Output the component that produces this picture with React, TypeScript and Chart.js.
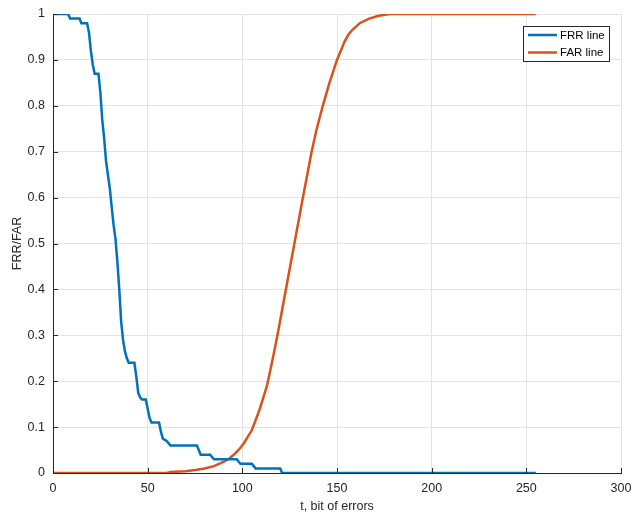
import React, { useEffect, useRef } from "react";
import { Chart, registerables } from "chart.js";

Chart.register(...registerables);

const xTicks = [0, 50, 100, 150, 200, 250, 300];
const yTicks = [0, 0.1, 0.2, 0.3, 0.4, 0.5, 0.6, 0.7, 0.8, 0.9, 1];

const frrT = [0, 8, 9, 14, 15, 18, 19, 20, 21, 22, 24, 25, 26, 27, 28, 29, 30, 31, 32, 33, 34, 35, 36, 37, 38, 39, 40, 43, 44, 45, 46, 47, 49, 50, 51, 52, 56, 57, 58, 60, 61, 62, 76, 77, 78, 83, 84, 85, 97, 98, 99, 105, 106, 107, 120, 121, 255];
const frrV = [1, 1, 0.99, 0.99, 0.98, 0.98, 0.96, 0.92, 0.89, 0.87, 0.87, 0.83, 0.77, 0.73, 0.68, 0.65, 0.62, 0.58, 0.54, 0.51, 0.46, 0.4, 0.33, 0.29, 0.265, 0.25, 0.24, 0.24, 0.21, 0.175, 0.165, 0.16, 0.16, 0.14, 0.12, 0.11, 0.11, 0.09, 0.075, 0.07, 0.065, 0.06, 0.06, 0.05, 0.04, 0.04, 0.035, 0.03, 0.03, 0.025, 0.02, 0.02, 0.015, 0.01, 0.01, 0, 0];

const farT = [0, 60, 62, 70, 76, 80, 85, 90, 93, 95, 97, 99, 101, 103, 105, 107, 109, 111, 113, 115, 117, 119, 121, 123, 127.5, 132, 136.6, 139, 142.5, 146, 150, 152, 154, 156, 158, 162, 167, 172, 178, 255];
const farV = [0, 0, 0.002, 0.004, 0.007, 0.01, 0.015, 0.024, 0.031, 0.038, 0.046, 0.055, 0.066, 0.08, 0.093, 0.115, 0.137, 0.163, 0.19, 0.228, 0.268, 0.31, 0.355, 0.4, 0.5, 0.6, 0.7, 0.745, 0.8, 0.85, 0.9, 0.92, 0.94, 0.955, 0.965, 0.98, 0.99, 0.996, 1, 1];

const seriesNames = ["FRR line", "FAR line"];
const xTitle = "t, bit of errors";
const yTitle = "FRR/FAR";

const BLUE = "#0072BD";
const ORANGE = "#D95319";
const TEXT = "#262626";
const FONT = "Liberation Sans, Arial, sans-serif";

const overlay = {
  id: "overlay",
  afterDraw(chart: any) {
    const { ctx, chartArea } = chart;
    const xs = chart.scales.x;
    const ys = chart.scales.y;
    ctx.save();
    ctx.strokeStyle = TEXT;
    ctx.lineWidth = 1;
    ctx.beginPath();
    xTicks.forEach((t) => {
      const px = Math.round(xs.getPixelForValue(t)) + 0.5;
      ctx.moveTo(px, chartArea.bottom);
      ctx.lineTo(px, chartArea.bottom - 5);
    });
    yTicks.forEach((t) => {
      const py = Math.round(ys.getPixelForValue(t)) + 0.5;
      ctx.moveTo(chartArea.left, py);
      ctx.lineTo(chartArea.left + 5, py);
    });
    ctx.stroke();
    ctx.fillStyle = TEXT;
    ctx.font = "12.5px " + FONT;
    ctx.textAlign = "center";
    ctx.textBaseline = "middle";
    ctx.fillText(xTitle, (chartArea.left + chartArea.right) / 2, 507);
    ctx.save();
    ctx.translate(18, (chartArea.top + chartArea.bottom) / 2);
    ctx.rotate(-Math.PI / 2);
    ctx.fillText(yTitle, 0, 0);
    ctx.restore();
    const bx = 523.5, by = 26.5, bw = 86, bh = 35;
    ctx.fillStyle = "#ffffff";
    ctx.fillRect(bx, by, bw, bh);
    ctx.strokeStyle = "#262626";
    ctx.lineWidth = 1;
    ctx.strokeRect(bx, by, bw, bh);
    const colors = [BLUE, ORANGE];
    const rows = [35, 52.5];
    ctx.font = "11.5px " + FONT;
    ctx.textAlign = "left";
    seriesNames.forEach((n, i) => {
      ctx.strokeStyle = colors[i];
      ctx.lineWidth = 2.5;
      ctx.beginPath();
      ctx.moveTo(528, rows[i]);
      ctx.lineTo(557, rows[i]);
      ctx.stroke();
      ctx.fillStyle = "#000000";
      ctx.fillText(n, 560, rows[i] + 0.5);
    });
    ctx.restore();
  },
};

export default function App() {
  const ref = useRef<HTMLCanvasElement>(null);
  useEffect(() => {
    if (!ref.current) return;
    const chart = new Chart(ref.current, {
      type: "line",
      data: {
        datasets: [
          {
            label: seriesNames[0],
            data: frrT.map((t, i) => ({ x: t, y: frrV[i] })),
            borderColor: BLUE,
            borderWidth: 2.5,
            pointRadius: 0,
            tension: 0,
            fill: false,
          },
          {
            label: seriesNames[1],
            data: farT.map((t, i) => ({ x: t, y: farV[i] })),
            borderColor: ORANGE,
            borderWidth: 2.5,
            pointRadius: 0,
            tension: 0,
            fill: false,
          },
        ],
      },
      plugins: [overlay],
      options: {
        responsive: false,
        animation: false,
        devicePixelRatio: 1,
        layout: { padding: { left: 8, right: 12, top: 14, bottom: 0 } },
        plugins: { legend: { display: false }, tooltip: { enabled: false } },
        scales: {
          x: {
            type: "linear",
            min: 0,
            max: 300,
            afterFit: (s: any) => { s.height = 42; s.paddingLeft = 0; s.paddingRight = 0; },
            afterBuildTicks: (s: any) => { s.ticks = xTicks.map((v) => ({ value: v })); },
            grid: { color: "#e3e3e3", drawTicks: false },
            border: { color: TEXT, width: 1 },
            ticks: { color: TEXT, font: { size: 12.5, family: FONT }, padding: 8, maxRotation: 0 },
          },
          y: {
            type: "linear",
            min: 0,
            max: 1,
            afterFit: (s: any) => { s.width = 45; s.paddingTop = 0; s.paddingBottom = 0; },
            afterBuildTicks: (s: any) => { s.ticks = yTicks.map((v) => ({ value: v })); },
            grid: { color: "#e3e3e3", drawTicks: false },
            border: { color: TEXT, width: 1 },
            ticks: {
              color: TEXT,
              font: { size: 12.5, family: FONT },
              padding: 8,
              callback: (v: any) => String(Math.round(Number(v) * 10) / 10),
            },
          },
        },
      },
    });
    return () => chart.destroy();
  }, []);
  return (
    <div style={{ position: "fixed", left: 0, top: 0, width: 633, height: 515, background: "#fff" }}>
      <canvas ref={ref} width={633} height={515} style={{ display: "block" }} />
    </div>
  );
}
